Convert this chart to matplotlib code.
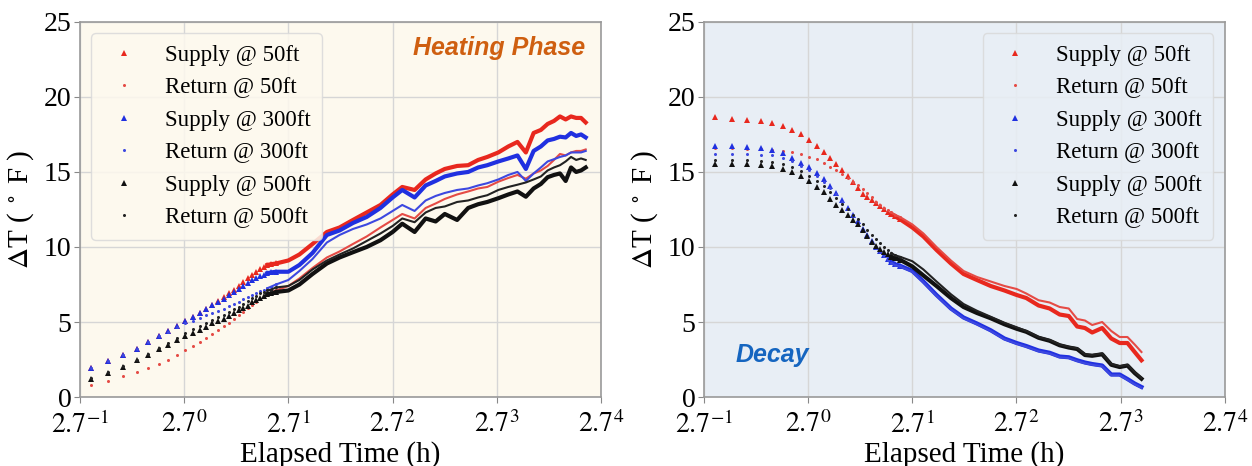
import numpy as np
import matplotlib
matplotlib.use('Agg')
import matplotlib.pyplot as plt
from matplotlib.lines import Line2D
from matplotlib.ticker import NullLocator

plt.rcParams['font.family'] = ['Liberation Serif', 'DejaVu Serif']
plt.rcParams['mathtext.fontset'] = 'stix'

# sample times (h) - early, sparse points shared by both panels
t_early = [0.41, 0.485, 0.56, 0.635, 0.71, 0.785, 0.86, 0.935, 1.01, 1.085, 1.16, 1.235, 1.31,
           1.385, 1.46, 1.535, 1.61, 1.685, 1.76, 1.835, 1.91, 1.985, 2.06, 2.135, 2.21, 2.285]
t_heat_late = [2.4, 2.7, 3.0, 3.4, 3.9, 4.4, 5.0, 5.7, 6.5, 7.3, 8.0, 9.0, 10, 11, 12, 13.5, 15,
               16.5, 18, 20, 22, 24, 26, 28, 30, 32, 34, 36, 38, 40, 42, 44, 46]
t_decay_late = [2.4, 2.7, 3.0, 3.4, 3.9, 4.4, 5.0, 5.7, 6.5, 7.3, 8.0, 9.0, 10, 11, 12, 13, 14,
                15, 16.5, 18, 19.5, 21, 22.5, 24]

labels = ['Supply @ 50ft', 'Return @ 50ft', 'Supply @ 300ft',
          'Return @ 300ft', 'Supply @ 500ft', 'Return @ 500ft']

# heating phase, delta T (F)
heat_sup_50 = [1.91, 2.38, 2.8, 3.22, 3.69, 4.05, 4.38, 4.73, 5.04, 5.33, 5.6, 5.87, 6.15, 6.4, 6.65,
               6.9, 7.15, 7.4, 7.65, 7.9, 8.1, 8.3, 8.5, 8.65, 8.8, 8.85,
               8.9, 9.1, 9.5, 10.2, 11.0, 11.3, 11.8, 12.3, 12.8, 13.5, 14.0, 13.8, 14.5, 14.9, 15.2,
               15.4, 15.45, 15.8, 16.0, 16.3, 16.7, 17.0, 16.3, 17.6, 17.8, 18.2, 18.4, 18.7, 18.5,
               18.7, 18.6, 18.6, 18.3]
heat_ret_50 = [0.83, 1.09, 1.38, 1.67, 1.91, 2.22, 2.49, 2.78, 3.11, 3.38, 3.67, 3.93, 4.18, 4.45,
               4.71, 4.96, 5.2, 5.45, 5.7, 5.95, 6.15, 6.35, 6.55, 6.7, 6.85, 6.95,
               7.1, 7.4, 7.9, 8.6, 9.3, 9.7, 10.2, 10.7, 11.3, 11.8, 12.2, 11.9, 12.6, 12.9, 13.2,
               13.5, 13.7, 13.9, 14.0, 14.35, 14.6, 14.8, 14.55, 14.9, 15.1, 15.4, 15.8, 16.2, 16.1,
               16.3, 16.4, 16.4, 16.5]
heat_sup_300 = [1.91, 2.38, 2.8, 3.22, 3.69, 4.05, 4.38, 4.73, 5.04, 5.33, 5.6, 5.85, 6.11, 6.33,
                6.56, 6.78, 7.0, 7.2, 7.4, 7.6, 7.8, 7.95, 8.05, 8.15, 8.25, 8.3,
                8.35, 8.35, 8.8, 9.6, 10.8, 11.1, 11.6, 12.0, 12.6, 13.3, 13.8, 13.3, 14.1, 14.4, 14.7,
                14.9, 15.0, 15.3, 15.45, 15.7, 15.9, 16.1, 15.2, 16.4, 16.7, 17.1, 17.2, 17.35, 17.3,
                17.6, 17.4, 17.5, 17.3]
heat_ret_300 = [1.91, 2.38, 2.8, 3.22, 3.69, 4.05, 4.35, 4.65, 4.93, 5.1, 5.3, 5.45, 5.6, 5.75, 5.9,
                6.05, 6.2, 6.35, 6.5, 6.65, 6.8, 6.95, 7.05, 7.15, 7.25, 7.35,
                7.5, 7.8, 8.4, 9.2, 10.3, 10.8, 11.2, 11.5, 11.9, 12.4, 12.8, 12.4, 13.1, 13.4, 13.6,
                13.8, 13.9, 14.1, 14.25, 14.5, 14.8, 15.0, 14.4, 14.9, 15.3, 15.7, 15.85, 16.0, 16.1,
                16.3, 16.3, 16.3, 16.4]
heat_sup_500 = [1.22, 1.62, 2.0, 2.45, 2.82, 3.18, 3.49, 3.83, 4.05, 4.27, 4.49, 4.69, 4.93, 5.09,
                5.23, 5.41, 5.6, 5.8, 5.95, 6.1, 6.3, 6.45, 6.6, 6.75, 6.85, 6.9,
                7.0, 7.1, 7.5, 8.2, 8.9, 9.3, 9.65, 10.0, 10.45, 11.0, 11.55, 11.0, 11.9, 11.7, 12.2,
                11.8, 12.6, 12.85, 13.0, 13.25, 13.5, 13.7, 13.35, 13.9, 14.2, 14.65, 14.8, 14.9, 14.4,
                15.3, 15.0, 15.1, 15.3]
heat_ret_500 = [1.3, 1.7, 2.1, 2.5, 2.9, 3.25, 3.6, 3.95, 4.3, 4.55, 4.75, 4.95, 5.15, 5.35, 5.5,
                5.7, 5.85, 6.0, 6.2, 6.4, 6.6, 6.75, 6.9, 7.0, 7.1, 7.15,
                7.3, 7.4, 7.8, 8.5, 9.1, 9.5, 9.9, 10.4, 10.9, 11.4, 11.9, 11.65, 12.3, 12.6, 12.7,
                13.0, 13.1, 13.3, 13.45, 13.8, 14.0, 14.15, 14.3, 14.5, 14.7, 15.1, 15.3, 15.45, 15.7,
                16.0, 15.8, 15.9, 15.8]

# decay phase, delta T (F)
decay_sup_50 = [18.63, 18.56, 18.49, 18.4, 18.25, 18.05, 17.8, 17.5, 17.15, 16.75, 16.35, 15.95,
                15.55, 15.15, 14.75, 14.3, 13.9, 13.55, 13.3, 13.1, 12.95, 12.75, 12.55, 12.35, 12.2,
                12.05,
                11.85, 11.3, 10.7, 9.8, 8.9, 8.2, 7.8, 7.4, 7.1, 6.8, 6.6, 6.1, 5.9, 5.5, 5.4, 4.7,
                4.6, 4.3, 4.6, 3.9, 3.6, 3.6, 3.0, 2.45]
decay_ret_50 = [16.6, 16.6, 16.55, 16.5, 16.45, 16.4, 16.3, 16.2, 16.0, 15.85, 15.6, 15.35, 15.1,
                14.85, 14.6, 14.35, 14.1, 13.85, 13.6, 13.3, 13.0, 12.8, 12.6, 12.45, 12.3, 12.15,
                12.0, 11.5, 10.9, 10.0, 9.1, 8.4, 8.0, 7.7, 7.4, 7.2, 6.9, 6.45, 6.3, 6.0, 5.9, 5.2,
                5.1, 4.8, 5.0, 4.4, 4.0, 4.0, 3.5, 3.0]
decay_sup_300 = [16.71, 16.71, 16.67, 16.6, 16.49, 16.27, 15.96, 15.6, 15.3, 14.9, 14.5, 14.05,
                 13.6, 13.1, 12.6, 12.15, 11.7, 11.2, 10.8, 10.4, 10.0, 9.7, 9.45, 9.2, 9.0, 8.85,
                 8.75, 8.4, 7.7, 6.8, 5.9, 5.3, 4.9, 4.45, 3.9, 3.6, 3.4, 3.1, 2.95, 2.7, 2.65, 2.45,
                 2.3, 2.2, 2.1, 1.5, 1.5, 1.2, 0.9, 0.67]
decay_ret_300 = [16.2, 16.2, 16.2, 16.15, 16.1, 15.95, 15.7, 15.4, 15.1, 14.75, 14.35, 13.95, 13.5,
                 13.0, 12.5, 12.05, 11.6, 11.15, 10.75, 10.35, 9.95, 9.65, 9.4, 9.15, 8.95, 8.8,
                 8.7, 8.35, 7.65, 6.75, 5.85, 5.25, 4.85, 4.4, 3.85, 3.55, 3.35, 3.05, 2.9, 2.65, 2.6,
                 2.4, 2.25, 2.15, 2.05, 1.45, 1.45, 1.15, 0.85, 0.62]
decay_sup_500 = [15.56, 15.56, 15.51, 15.49, 15.38, 15.22, 15.0, 14.7, 14.4, 14.0, 13.65, 13.2,
                 12.8, 12.45, 12.1, 11.8, 11.5, 11.1, 10.7, 10.35, 10.05, 9.85, 9.65, 9.5, 9.35, 9.25,
                 9.15, 8.7, 8.1, 7.4, 6.6, 6.0, 5.6, 5.25, 4.85, 4.55, 4.35, 3.95, 3.75, 3.45, 3.3,
                 3.2, 2.8, 2.75, 2.85, 2.15, 2.0, 2.1, 1.6, 1.22]
decay_ret_500 = [15.82, 15.82, 15.8, 15.75, 15.65, 15.5, 15.3, 15.05, 14.75, 14.4, 14.05, 13.65,
                 13.25, 12.85, 12.5, 12.15, 11.85, 11.5, 11.15, 10.8, 10.5, 10.25, 10.0, 9.8, 9.6,
                 9.45,
                 9.35, 9.05, 8.5, 7.7, 6.85, 6.2, 5.75, 5.35, 4.95, 4.65, 4.4, 4.0, 3.8, 3.5, 3.35,
                 3.25, 2.85, 2.8, 2.9, 2.2, 2.05, 2.15, 1.65, 1.27]

colors = ['#e8281e', '#e54b45', '#2030e0', '#3d48e0', '#111111', '#222222']


def draw_series(ax, t, y, color, supply):
    t = np.asarray(t)
    y = np.asarray(y)
    sparse = t < 2.5
    dense = t >= 2.2
    if supply:
        ax.plot(t[sparse], y[sparse], ls='none', marker='^', ms=4.3, color=color, mew=0)
        ax.plot(t[dense], y[dense], lw=3.0, color=color, solid_joinstyle='round')
    else:
        ax.plot(t[sparse], y[sparse], ls='none', marker='o', ms=2.2, color=color, mew=0)
        ax.plot(t[dense], y[dense], lw=1.5, color=color, solid_joinstyle='round')


def style_axes(ax, face):
    ax.set_facecolor(face)
    ax.set_xscale('log', base=2.7)
    ax.set_xlim(2.7 ** -1, 2.7 ** 4)
    ax.set_ylim(0, 25)
    ax.set_xticks([2.7 ** k for k in range(-1, 5)])
    ax.set_xticklabels([r'$2.7^{%d}$' % k for k in range(-1, 5)])
    ax.xaxis.set_minor_locator(NullLocator())
    ax.set_yticks([0, 5, 10, 15, 20, 25])
    ax.tick_params(labelsize=20, length=4, color='#888888')
    ax.tick_params(axis='x', pad=6)
    ax.tick_params(axis='y', pad=2)
    ax.grid(True, color='#d6d6d6', lw=1)
    ax.set_axisbelow(True)
    for s in ax.spines.values():
        s.set_color('#9a9a9a')
        s.set_linewidth(1.2)
    ax.set_xlabel('Elapsed Time (h)', fontsize=21, labelpad=2)
    ax.set_ylabel(r'$\Delta$T ( $^\circ$ F )', fontsize=21, labelpad=6)


def add_legend(ax, loc, face):
    handles = []
    for i, c in enumerate(colors):
        if i % 2 == 0:
            handles.append(Line2D([], [], ls='none', marker='^', ms=5, color=c, mew=0))
        else:
            handles.append(Line2D([], [], ls='none', marker='o', ms=2.2, color=c, mew=0))
    leg = ax.legend(handles, labels, loc=loc, fontsize=16.5, handlelength=1.8,
                    handletextpad=0.9, labelspacing=0.5, borderpad=0.5,
                    frameon=True, fancybox=True, facecolor=face, edgecolor='#d9d9d9',
                    framealpha=0.85)
    return leg


fig = plt.figure(figsize=(12.52, 4.66), dpi=100)
ax1 = fig.add_axes([0.0639, 0.148, 0.416, 0.805])
ax2 = fig.add_axes([0.5623, 0.148, 0.416, 0.805])

t_heat = t_early + t_heat_late
heat = [heat_sup_50, heat_ret_50, heat_sup_300, heat_ret_300, heat_sup_500, heat_ret_500]
for i, y in enumerate(heat):
    draw_series(ax1, t_heat, y, colors[i], i % 2 == 0)

t_decay = t_early + t_decay_late
decay = [decay_sup_50, decay_ret_50, decay_sup_300, decay_ret_300, decay_sup_500, decay_ret_500]
for i, y in enumerate(decay):
    draw_series(ax2, t_decay, y, colors[i], i % 2 == 0)

style_axes(ax1, '#fdf9ee')
style_axes(ax2, '#e8eef5')
add_legend(ax1, 'upper left', '#fdf9ee')
add_legend(ax2, 'upper right', '#e8eef5')

ax1.text(0.969, 0.931, 'Heating Phase', transform=ax1.transAxes, ha='right', va='center',
         fontsize=18, fontweight='bold', fontstyle='italic', color='#cf5f10',
         family='Liberation Sans')
ax2.text(0.061, 0.112, 'Decay', transform=ax2.transAxes, ha='left', va='center',
         fontsize=18, fontweight='bold', fontstyle='italic', color='#1565c0',
         family='Liberation Sans')

fig.savefig('out.png', dpi=100)
